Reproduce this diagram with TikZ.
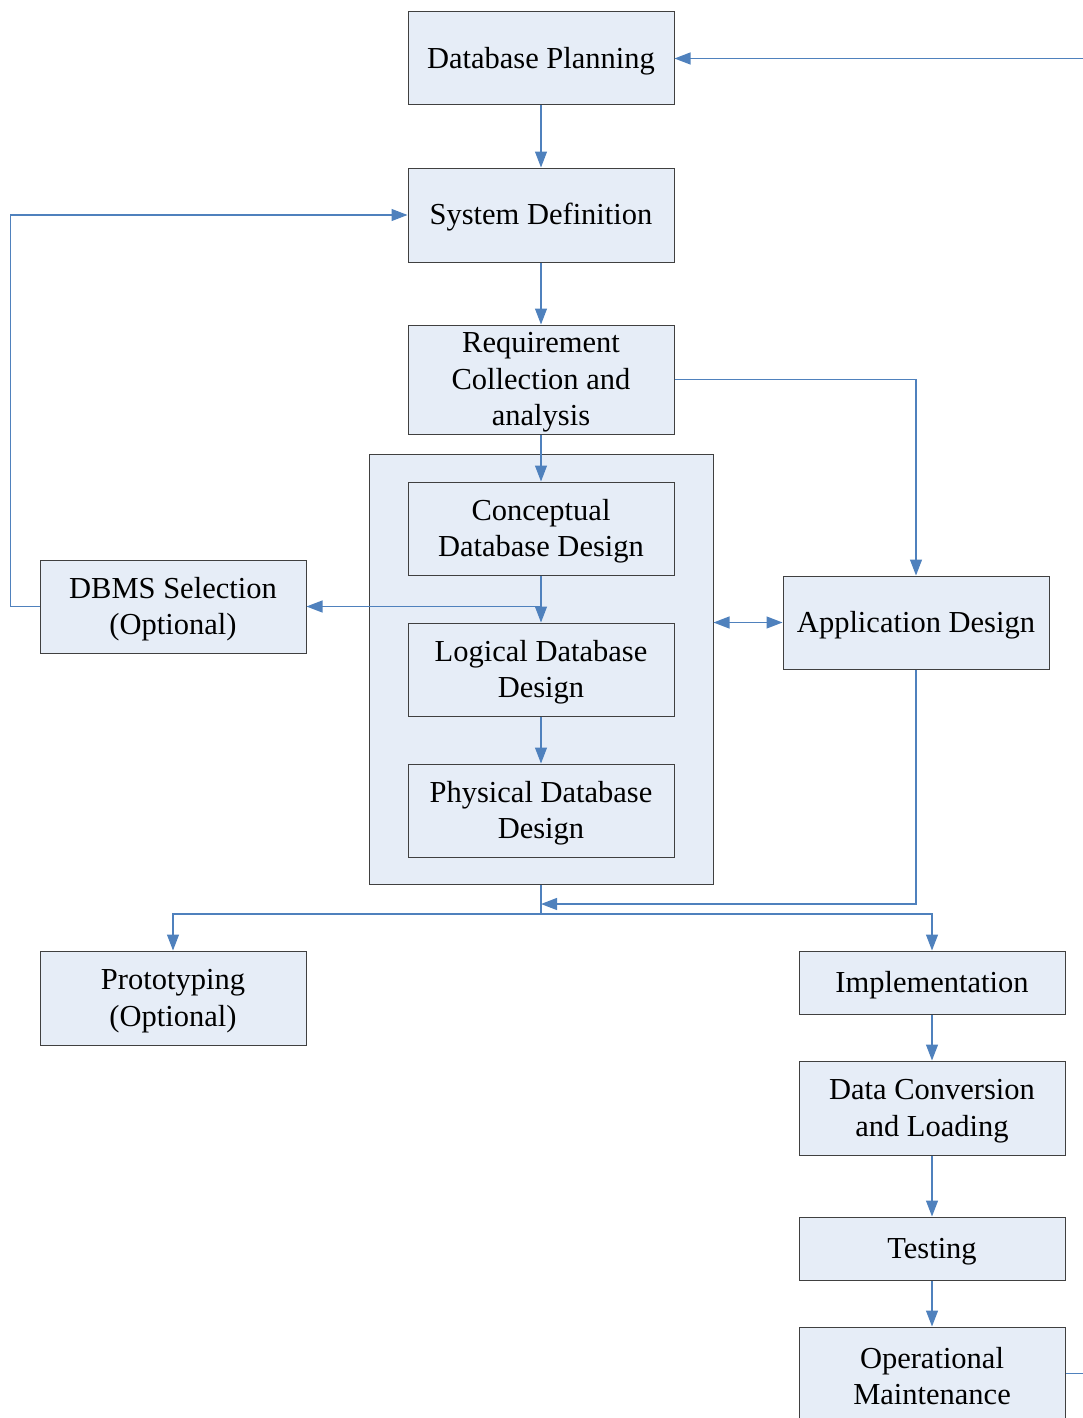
\documentclass[tikz,border=0pt]{standalone}
\usepackage{fontspec}
\setmainfont{Liberation Serif}
\usetikzlibrary{arrows.meta}

\definecolor{boxfill}{RGB}{230,237,247}
\definecolor{boxline}{RGB}{64,64,64}
\definecolor{flowblue}{RGB}{79,129,189}

% taller first line, so the text sits a little low in its box
\newcommand{\lift}{\rule{0pt}{26.5pt}}

\tikzset{
  stage/.style={draw=boxline, fill=boxfill, line width=1pt, inner sep=0pt,
    minimum width=266pt, minimum height=93pt, align=center,
    font=\fontsize{30.5}{36.5}\selectfont},
  tip/.tip={Triangle[length=16pt,width=12pt]},
  flow/.style={draw=flowblue, line width=1.2pt, -tip},
  link/.style={draw=flowblue, line width=1.2pt}
}

\begin{document}
\begin{tikzpicture}[x=1pt, y=-1pt]
        \useasboundingbox (0,0) rectangle (1083,1418);
        \clip (0,0) rectangle (1083,1418);

        % design block behind the three design stages
        \node[draw=boxline, fill=boxfill, line width=1pt, minimum width=344pt, minimum height=430pt] (design) at (541,669) {};

        \node[stage] (plan) at (541,58.5) {\lift Database Planning};
        \node[stage, minimum height=94pt] (sysdef) at (541,215) {\lift System Definition};
        \node[stage, minimum height=109pt] (req) at (541,379.5) {\lift Requirement\\Collection and\\analysis};
        \node[stage] (concept) at (541,528.5) {\lift Conceptual\\Database Design};
        \node[stage] (logical) at (541,669.5) {\lift Logical Database\\Design};
        \node[stage] (physical) at (541,810.5) {\lift Physical Database\\Design};
        \node[stage] (dbms) at (173,606.5) {\lift DBMS Selection\\(Optional)};
        \node[stage] (appdes) at (916,622.5) {\lift Application Design};
        \node[stage, minimum height=94pt] (proto) at (173,998) {\lift Prototyping\\(Optional)};
        \node[stage, minimum height=63pt] (impl) at (932,982.5) {\lift Implementation};
        \node[stage, minimum height=94pt] (conv) at (932,1108) {\lift Data Conversion\\and Loading};
        \node[stage, minimum height=63pt] (test) at (932,1248.5) {\lift Testing};
        \node[stage] (maint) at (932,1373.5) {\lift Operational\\Maintenance};

        \coordinate (feedin) at (1083,58.5);
        \coordinate (feedout) at (1083,1373.5);
        \coordinate (branch) at (541,606.5);
        \coordinate (split) at (541,914);
        \coordinate (merge) at (541,904);

        % main line
        \draw[flow] (feedin) -- (plan.east);
        \draw[flow] (plan) -- (sysdef);
        \draw[flow] (sysdef) -- (req);
        \draw[flow] (req) -- (concept);
        \draw[flow] (concept) -- (logical);
        \draw[flow] (logical) -- (physical);
        \draw[flow] (branch) -- (dbms.east);
        \draw[flow] (dbms.west) -- ++(-29,0) |- (sysdef.west);
        \draw[flow] (req.east) -| (appdes.north);
        \draw[flow, tip-tip] (appdes.west -| design.east) -- (appdes.west);
        \draw[flow] (appdes.south) |- (merge);
        \draw[link] (design.south) -- (split);
        \draw[flow] (split) -| (proto.north);
        \draw[flow] (split) -| (impl.north);
        \draw[flow] (impl) -- (conv);
        \draw[flow] (conv) -- (test);
        \draw[flow] (test) -- (maint);
        \draw[link] (maint.east) -- (feedout);
    \end{tikzpicture}
\end{document}
